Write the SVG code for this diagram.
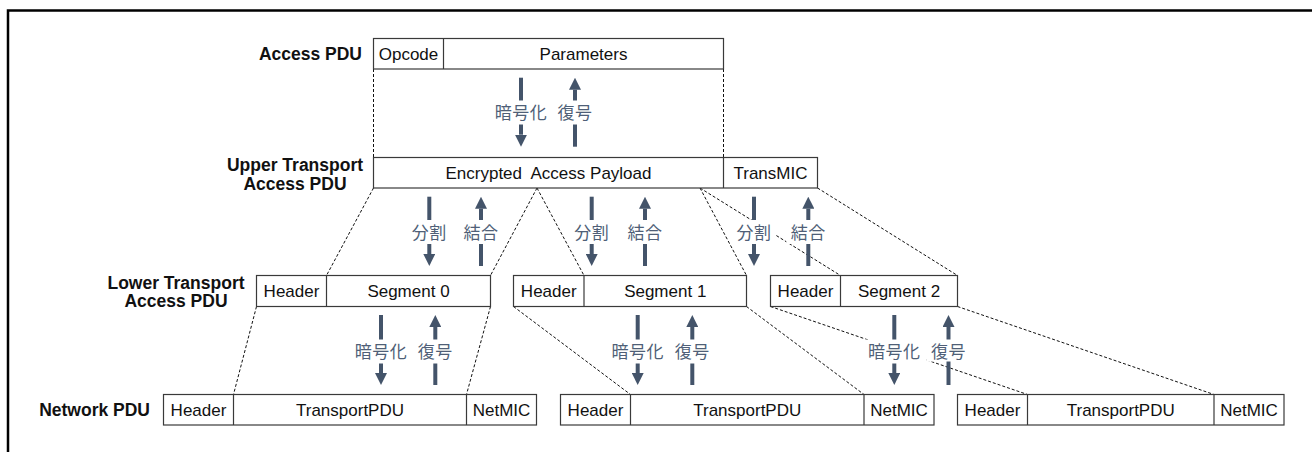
<svg xmlns="http://www.w3.org/2000/svg" width="1312" height="452" viewBox="0 0 1312 452">
<style>
.box{fill:#fff;stroke:#3a3a3a;stroke-width:1.2}
.div{stroke:#3a3a3a;stroke-width:1.2}
.t{font-family:"Liberation Sans",Arial,sans-serif;font-size:17px;fill:#111;text-anchor:middle}
.lbl{font-family:"Liberation Sans",Arial,sans-serif;font-size:17.5px;font-weight:bold;fill:#111}
.dash{stroke:#111;stroke-width:1;stroke-dasharray:3 2;fill:none}
.arr{stroke:#44546A;stroke-width:4}
.bg{fill:#fff}
.op{font-family:"Noto Sans CJK JP","Noto Sans CJK SC",sans-serif;font-size:17px;fill:#4f5f77;text-anchor:middle;letter-spacing:0.5px}
</style>
<defs>
<marker id="ah" viewBox="0 0 12 12" markerWidth="12" markerHeight="12" markerUnits="userSpaceOnUse" refX="0" refY="6" orient="auto">
<path d="M0,0 L12,6 L0,12 z" fill="#44546A"/>
</marker>
</defs>
<rect x="8" y="10.5" width="1330" height="460" fill="none" stroke="#000" stroke-width="2.5"/>

<g id="labels">
<text class="lbl" x="362" y="60" text-anchor="end">Access PDU</text>
<text class="lbl" x="295" y="170.5" text-anchor="middle">Upper Transport</text>
<text class="lbl" x="295" y="189.5" text-anchor="middle">Access PDU</text>
<text class="lbl" x="176" y="288.5" text-anchor="middle">Lower Transport</text>
<text class="lbl" x="176" y="307" text-anchor="middle">Access PDU</text>
<text class="lbl" x="150" y="416" text-anchor="end">Network PDU</text>
</g>

<g id="connectors">
<line class="dash" x1="373.5" y1="69" x2="373.5" y2="157.5"/>
<line class="dash" x1="723.5" y1="69" x2="723.5" y2="157.5"/>
<line class="dash" x1="373.5" y1="188" x2="326.5" y2="275.5"/>
<line class="dash" x1="537" y1="188" x2="490.5" y2="275.5"/>
<line class="dash" x1="537" y1="188" x2="584" y2="275.5"/>
<line class="dash" x1="700" y1="188" x2="746.5" y2="275.5"/>
<line class="dash" x1="700" y1="188" x2="840.5" y2="275.5"/>
<line class="dash" x1="817.5" y1="188" x2="957.5" y2="275.5"/>
<line class="dash" x1="256.5" y1="306.5" x2="233.5" y2="394.5"/>
<line class="dash" x1="490.5" y1="306.5" x2="466.5" y2="394.5"/>
<line class="dash" x1="513.5" y1="306.5" x2="630.5" y2="394.5"/>
<line class="dash" x1="746.5" y1="306.5" x2="864" y2="394.5"/>
<line class="dash" x1="770.5" y1="306.5" x2="1027.5" y2="394.5"/>
<line class="dash" x1="957.5" y1="306.5" x2="1214" y2="394.5"/>
</g>

<g id="access-pdu">
<rect class="box" x="373.5" y="38.5" width="350" height="30.5"/>
<line class="div" x1="443.5" y1="38.5" x2="443.5" y2="69"/>
<text class="t" x="408.5" y="59.8">Opcode</text>
<text class="t" x="583.5" y="59.8">Parameters</text>
</g>

<g id="upper-transport-pdu">
<rect class="box" x="373.5" y="157.5" width="444" height="30.5"/>
<line class="div" x1="723.5" y1="157.5" x2="723.5" y2="188"/>
<text class="t" x="548.5" y="178.8" xml:space="preserve">Encrypted  Access Payload</text>
<text class="t" x="770.5" y="178.8">TransMIC</text>
</g>

<g id="lower-seg0">
<rect class="box" x="256.5" y="275.5" width="234" height="31"/>
<line class="div" x1="326.5" y1="275.5" x2="326.5" y2="306.5"/>
<text class="t" x="291.5" y="297">Header</text>
<text class="t" x="408.5" y="297">Segment 0</text>
</g>
<g id="lower-seg1">
<rect class="box" x="513.5" y="275.5" width="233" height="31"/>
<line class="div" x1="584" y1="275.5" x2="584" y2="306.5"/>
<text class="t" x="548.75" y="297">Header</text>
<text class="t" x="665.25" y="297">Segment 1</text>
</g>
<g id="lower-seg2">
<rect class="box" x="770.5" y="275.5" width="187" height="31"/>
<line class="div" x1="840.5" y1="275.5" x2="840.5" y2="306.5"/>
<text class="t" x="805.5" y="297">Header</text>
<text class="t" x="899" y="297">Segment 2</text>
</g>

<g id="network-pdu-0">
<rect class="box" x="163.5" y="394.5" width="373" height="30.5"/>
<line class="div" x1="233.5" y1="394.5" x2="233.5" y2="425"/>
<line class="div" x1="466.5" y1="394.5" x2="466.5" y2="425"/>
<text class="t" x="198.5" y="415.8">Header</text>
<text class="t" x="350" y="415.8">TransportPDU</text>
<text class="t" x="501.5" y="415.8">NetMIC</text>
</g>
<g id="network-pdu-1">
<rect class="box" x="560.5" y="394.5" width="373.5" height="30.5"/>
<line class="div" x1="630.5" y1="394.5" x2="630.5" y2="425"/>
<line class="div" x1="864" y1="394.5" x2="864" y2="425"/>
<text class="t" x="595.5" y="415.8">Header</text>
<text class="t" x="747.25" y="415.8">TransportPDU</text>
<text class="t" x="899" y="415.8">NetMIC</text>
</g>
<g id="network-pdu-2">
<rect class="box" x="957.5" y="394.5" width="326.5" height="30.5"/>
<line class="div" x1="1027.5" y1="394.5" x2="1027.5" y2="425"/>
<line class="div" x1="1214" y1="394.5" x2="1214" y2="425"/>
<text class="t" x="992.5" y="415.8">Header</text>
<text class="t" x="1120.75" y="415.8">TransportPDU</text>
<text class="t" x="1249" y="415.8">NetMIC</text>
</g>

<g id="op-access">
<line class="arr" x1="521" y1="77.7" x2="521" y2="134.7" marker-end="url(#ah)"/>
<line class="arr" x1="575" y1="146.7" x2="575" y2="89.7" marker-end="url(#ah)"/>
<rect class="bg" x="490" y="100.5" width="62" height="24"/>
<text class="op" x="521" y="119">暗号化</text>
<rect class="bg" x="553" y="100.5" width="44" height="24"/>
<text class="op" x="575" y="119">復号</text>
</g>

<g id="op-seg0">
<line class="arr" x1="429.3" y1="196.7" x2="429.3" y2="254" marker-end="url(#ah)"/>
<line class="arr" x1="481" y1="266" x2="481" y2="208.7" marker-end="url(#ah)"/>
<rect class="bg" x="407.3" y="220" width="44" height="24"/>
<text class="op" x="429.3" y="238.5">分割</text>
<rect class="bg" x="459" y="220" width="44" height="24"/>
<text class="op" x="481" y="238.5">結合</text>
</g>
<g id="op-seg1">
<line class="arr" x1="591.7" y1="196.7" x2="591.7" y2="254" marker-end="url(#ah)"/>
<line class="arr" x1="645" y1="266" x2="645" y2="208.7" marker-end="url(#ah)"/>
<rect class="bg" x="569.7" y="220" width="44" height="24"/>
<text class="op" x="591.7" y="238.5">分割</text>
<rect class="bg" x="623" y="220" width="44" height="24"/>
<text class="op" x="645" y="238.5">結合</text>
</g>
<g id="op-seg2">
<line class="arr" x1="754" y1="196.7" x2="754" y2="254" marker-end="url(#ah)"/>
<line class="arr" x1="808.3" y1="266" x2="808.3" y2="208.7" marker-end="url(#ah)"/>
<rect class="bg" x="732" y="220" width="44" height="24"/>
<text class="op" x="754" y="238.5">分割</text>
<rect class="bg" x="786.3" y="220" width="44" height="24"/>
<text class="op" x="808.3" y="238.5">結合</text>
</g>

<g id="op-net0">
<line class="arr" x1="381" y1="315" x2="381" y2="373" marker-end="url(#ah)"/>
<line class="arr" x1="435.3" y1="385" x2="435.3" y2="327" marker-end="url(#ah)"/>
<rect class="bg" x="350" y="339.5" width="62" height="24"/>
<text class="op" x="381" y="358">暗号化</text>
<rect class="bg" x="413.3" y="339.5" width="44" height="24"/>
<text class="op" x="435.3" y="358">復号</text>
</g>
<g id="op-net1">
<line class="arr" x1="637.7" y1="315" x2="637.7" y2="373" marker-end="url(#ah)"/>
<line class="arr" x1="692.3" y1="385" x2="692.3" y2="327" marker-end="url(#ah)"/>
<rect class="bg" x="606.7" y="339.5" width="62" height="24"/>
<text class="op" x="637.7" y="358">暗号化</text>
<rect class="bg" x="670.3" y="339.5" width="44" height="24"/>
<text class="op" x="692.3" y="358">復号</text>
</g>
<g id="op-net2">
<line class="arr" x1="894.3" y1="315" x2="894.3" y2="373" marker-end="url(#ah)"/>
<line class="arr" x1="948.5" y1="385" x2="948.5" y2="327" marker-end="url(#ah)"/>
<rect class="bg" x="863.3" y="339.5" width="62" height="24"/>
<text class="op" x="894.3" y="358">暗号化</text>
<rect class="bg" x="926.5" y="339.5" width="44" height="22"/>
<text class="op" x="948.5" y="358">復号</text>
</g>
</svg>
